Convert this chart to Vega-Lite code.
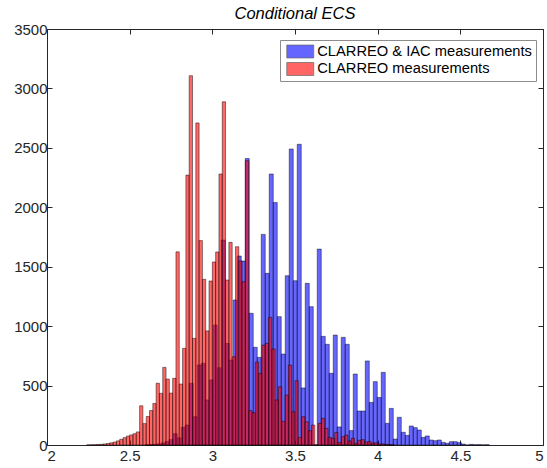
{
  "$schema": "https://vega.github.io/schema/vega-lite/v6.json",
  "width": 496,
  "height": 416,
  "autosize": "none",
  "padding": {"left": 47, "top": 29, "right": 4, "bottom": 23},
  "background": "#ffffff",
  "title": {"text": "Conditional ECS", "font": "Liberation Sans", "fontSize": 16.5, "fontStyle": "italic", "fontWeight": "normal", "color": "#000000", "offset": 0},
  "data": {"values": [
    {"s":"b","a":2.5940,"b":2.6182,"n":2},
    {"s":"b","a":2.6182,"b":2.6424,"n":4},
    {"s":"b","a":2.6424,"b":2.6666,"n":6},
    {"s":"b","a":2.6666,"b":2.6908,"n":10},
    {"s":"b","a":2.6908,"b":2.7150,"n":18},
    {"s":"b","a":2.7150,"b":2.7392,"n":30},
    {"s":"b","a":2.7392,"b":2.7634,"n":45},
    {"s":"b","a":2.7634,"b":2.7876,"n":95},
    {"s":"b","a":2.7876,"b":2.8118,"n":60},
    {"s":"b","a":2.8118,"b":2.8360,"n":149},
    {"s":"b","a":2.8360,"b":2.8602,"n":168},
    {"s":"b","a":2.8602,"b":2.8844,"n":519},
    {"s":"b","a":2.8844,"b":2.9086,"n":238},
    {"s":"b","a":2.9086,"b":2.9328,"n":673},
    {"s":"b","a":2.9328,"b":2.9570,"n":687},
    {"s":"b","a":2.9570,"b":2.9812,"n":379},
    {"s":"b","a":2.9812,"b":3.0054,"n":547},
    {"s":"b","a":3.0054,"b":3.0296,"n":1009},
    {"s":"b","a":3.0296,"b":3.0538,"n":650},
    {"s":"b","a":3.0538,"b":3.0780,"n":1724},
    {"s":"b","a":3.0780,"b":3.1022,"n":855},
    {"s":"b","a":3.1022,"b":3.1264,"n":715},
    {"s":"b","a":3.1264,"b":3.1506,"n":1220},
    {"s":"b","a":3.1506,"b":3.1748,"n":1590},
    {"s":"b","a":3.1748,"b":3.1990,"n":1548},
    {"s":"b","a":3.1990,"b":3.2232,"n":2410},
    {"s":"b","a":3.2232,"b":3.2474,"n":1108},
    {"s":"b","a":3.2474,"b":3.2716,"n":822},
    {"s":"b","a":3.2716,"b":3.2958,"n":737},
    {"s":"b","a":3.2958,"b":3.3200,"n":1772},
    {"s":"b","a":3.3200,"b":3.3442,"n":1444},
    {"s":"b","a":3.3442,"b":3.3684,"n":2280},
    {"s":"b","a":3.3684,"b":3.3926,"n":2041},
    {"s":"b","a":3.3926,"b":3.4168,"n":1080},
    {"s":"b","a":3.4168,"b":3.4410,"n":765},
    {"s":"b","a":3.4410,"b":3.4652,"n":1424},
    {"s":"b","a":3.4652,"b":3.4894,"n":2490},
    {"s":"b","a":3.4894,"b":3.5136,"n":1382},
    {"s":"b","a":3.5136,"b":3.5378,"n":2530},
    {"s":"b","a":3.5378,"b":3.5620,"n":480},
    {"s":"b","a":3.5620,"b":3.5862,"n":1360},
    {"s":"b","a":3.5862,"b":3.6104,"n":1164},
    {"s":"b","a":3.6104,"b":3.6346,"n":0},
    {"s":"b","a":3.6346,"b":3.6588,"n":1648},
    {"s":"b","a":3.6588,"b":3.6830,"n":914},
    {"s":"b","a":3.6830,"b":3.7072,"n":847},
    {"s":"b","a":3.7072,"b":3.7314,"n":603},
    {"s":"b","a":3.7314,"b":3.7556,"n":925},
    {"s":"b","a":3.7556,"b":3.7798,"n":152},
    {"s":"b","a":3.7798,"b":3.8040,"n":906},
    {"s":"b","a":3.8040,"b":3.8282,"n":847},
    {"s":"b","a":3.8282,"b":3.8524,"n":121},
    {"s":"b","a":3.8524,"b":3.8766,"n":597},
    {"s":"b","a":3.8766,"b":3.9008,"n":286},
    {"s":"b","a":3.9008,"b":3.9250,"n":286},
    {"s":"b","a":3.9250,"b":3.9492,"n":707},
    {"s":"b","a":3.9492,"b":3.9734,"n":358},
    {"s":"b","a":3.9734,"b":3.9976,"n":533},
    {"s":"b","a":3.9976,"b":4.0218,"n":400},
    {"s":"b","a":4.0218,"b":4.0460,"n":611},
    {"s":"b","a":4.0460,"b":4.0702,"n":182},
    {"s":"b","a":4.0702,"b":4.0944,"n":308},
    {"s":"b","a":4.0944,"b":4.1186,"n":50},
    {"s":"b","a":4.1186,"b":4.1428,"n":233},
    {"s":"b","a":4.1428,"b":4.1670,"n":107},
    {"s":"b","a":4.1670,"b":4.1912,"n":81},
    {"s":"b","a":4.1912,"b":4.2154,"n":160},
    {"s":"b","a":4.2154,"b":4.2396,"n":146},
    {"s":"b","a":4.2396,"b":4.2638,"n":126},
    {"s":"b","a":4.2638,"b":4.2880,"n":64},
    {"s":"b","a":4.2880,"b":4.3122,"n":76},
    {"s":"b","a":4.3122,"b":4.3364,"n":42},
    {"s":"b","a":4.3364,"b":4.3606,"n":36},
    {"s":"b","a":4.3606,"b":4.3848,"n":42},
    {"s":"b","a":4.3848,"b":4.4090,"n":22},
    {"s":"b","a":4.4090,"b":4.4332,"n":14},
    {"s":"b","a":4.4332,"b":4.4574,"n":28},
    {"s":"b","a":4.4574,"b":4.4816,"n":28},
    {"s":"b","a":4.4816,"b":4.5058,"n":20},
    {"s":"b","a":4.5058,"b":4.5300,"n":8},
    {"s":"b","a":4.5300,"b":4.5542,"n":0},
    {"s":"b","a":4.5542,"b":4.5784,"n":5},
    {"s":"b","a":4.5784,"b":4.6026,"n":2},
    {"s":"b","a":4.6026,"b":4.6268,"n":3},
    {"s":"b","a":4.6268,"b":4.6510,"n":1},
    {"s":"b","a":4.6510,"b":4.6752,"n":2},
    {"s":"r","a":2.24,"b":2.26,"n":1},
    {"s":"r","a":2.26,"b":2.28,"n":2},
    {"s":"r","a":2.28,"b":2.30,"n":3},
    {"s":"r","a":2.30,"b":2.32,"n":4},
    {"s":"r","a":2.32,"b":2.34,"n":6},
    {"s":"r","a":2.34,"b":2.36,"n":9},
    {"s":"r","a":2.36,"b":2.38,"n":13},
    {"s":"r","a":2.38,"b":2.40,"n":18},
    {"s":"r","a":2.40,"b":2.42,"n":25},
    {"s":"r","a":2.42,"b":2.44,"n":35},
    {"s":"r","a":2.44,"b":2.46,"n":48},
    {"s":"r","a":2.46,"b":2.48,"n":62},
    {"s":"r","a":2.48,"b":2.50,"n":75},
    {"s":"r","a":2.50,"b":2.52,"n":85},
    {"s":"r","a":2.52,"b":2.54,"n":95},
    {"s":"r","a":2.54,"b":2.56,"n":110},
    {"s":"r","a":2.56,"b":2.58,"n":330},
    {"s":"r","a":2.58,"b":2.60,"n":180},
    {"s":"r","a":2.60,"b":2.62,"n":240},
    {"s":"r","a":2.62,"b":2.64,"n":290},
    {"s":"r","a":2.64,"b":2.66,"n":350},
    {"s":"r","a":2.66,"b":2.68,"n":520},
    {"s":"r","a":2.68,"b":2.70,"n":435},
    {"s":"r","a":2.70,"b":2.72,"n":653},
    {"s":"r","a":2.72,"b":2.74,"n":555},
    {"s":"r","a":2.74,"b":2.76,"n":437},
    {"s":"r","a":2.76,"b":2.78,"n":561},
    {"s":"r","a":2.78,"b":2.80,"n":1625},
    {"s":"r","a":2.80,"b":2.82,"n":513},
    {"s":"r","a":2.82,"b":2.84,"n":813},
    {"s":"r","a":2.84,"b":2.86,"n":2271},
    {"s":"r","a":2.86,"b":2.88,"n":3107},
    {"s":"r","a":2.88,"b":2.90,"n":897},
    {"s":"r","a":2.90,"b":2.92,"n":2710},
    {"s":"r","a":2.92,"b":2.94,"n":1720},
    {"s":"r","a":2.94,"b":2.96,"n":1394},
    {"s":"r","a":2.96,"b":2.98,"n":960},
    {"s":"r","a":2.98,"b":3.00,"n":1380},
    {"s":"r","a":3.00,"b":3.02,"n":1540},
    {"s":"r","a":3.02,"b":3.04,"n":1624},
    {"s":"r","a":3.04,"b":3.06,"n":2280},
    {"s":"r","a":3.06,"b":3.08,"n":2888},
    {"s":"r","a":3.08,"b":3.10,"n":1388},
    {"s":"r","a":3.10,"b":3.12,"n":1705},
    {"s":"r","a":3.12,"b":3.14,"n":743},
    {"s":"r","a":3.14,"b":3.16,"n":1668},
    {"s":"r","a":3.16,"b":3.18,"n":1548},
    {"s":"r","a":3.18,"b":3.20,"n":1374},
    {"s":"r","a":3.20,"b":3.22,"n":2392},
    {"s":"r","a":3.22,"b":3.24,"n":289},
    {"s":"r","a":3.24,"b":3.26,"n":272},
    {"s":"r","a":3.26,"b":3.28,"n":698},
    {"s":"r","a":3.28,"b":3.30,"n":603},
    {"s":"r","a":3.30,"b":3.32,"n":841},
    {"s":"r","a":3.32,"b":3.34,"n":855},
    {"s":"r","a":3.34,"b":3.36,"n":1074},
    {"s":"r","a":3.36,"b":3.38,"n":808},
    {"s":"r","a":3.38,"b":3.40,"n":379},
    {"s":"r","a":3.40,"b":3.42,"n":491},
    {"s":"r","a":3.42,"b":3.44,"n":200},
    {"s":"r","a":3.44,"b":3.46,"n":420},
    {"s":"r","a":3.46,"b":3.48,"n":673},
    {"s":"r","a":3.48,"b":3.50,"n":280},
    {"s":"r","a":3.50,"b":3.52,"n":541},
    {"s":"r","a":3.52,"b":3.54,"n":64},
    {"s":"r","a":3.54,"b":3.56,"n":238},
    {"s":"r","a":3.56,"b":3.58,"n":196},
    {"s":"r","a":3.58,"b":3.60,"n":120},
    {"s":"r","a":3.60,"b":3.62,"n":168},
    {"s":"r","a":3.62,"b":3.64,"n":0},
    {"s":"r","a":3.64,"b":3.66,"n":182},
    {"s":"r","a":3.66,"b":3.68,"n":224},
    {"s":"r","a":3.68,"b":3.70,"n":140},
    {"s":"r","a":3.70,"b":3.72,"n":64},
    {"s":"r","a":3.72,"b":3.74,"n":56},
    {"s":"r","a":3.74,"b":3.76,"n":106},
    {"s":"r","a":3.76,"b":3.78,"n":20},
    {"s":"r","a":3.78,"b":3.80,"n":70},
    {"s":"r","a":3.80,"b":3.82,"n":84},
    {"s":"r","a":3.82,"b":3.84,"n":34},
    {"s":"r","a":3.84,"b":3.86,"n":56},
    {"s":"r","a":3.86,"b":3.88,"n":14},
    {"s":"r","a":3.88,"b":3.90,"n":40},
    {"s":"r","a":3.90,"b":3.92,"n":45},
    {"s":"r","a":3.92,"b":3.94,"n":25},
    {"s":"r","a":3.94,"b":3.96,"n":30},
    {"s":"r","a":3.96,"b":3.98,"n":15},
    {"s":"r","a":3.98,"b":4.00,"n":20},
    {"s":"r","a":4.00,"b":4.02,"n":8},
    {"s":"r","a":4.02,"b":4.04,"n":10},
    {"s":"r","a":4.04,"b":4.06,"n":5},
    {"s":"r","a":4.06,"b":4.08,"n":3},
    {"s":"r","a":4.08,"b":4.10,"n":2}
  ]},
  "layer": [
    {
      "mark": {"type": "rect", "fillOpacity": 0.6, "stroke": "#000000", "strokeWidth": 0.7, "strokeOpacity": 0.65},
      "encoding": {
        "x": {"field": "a", "type": "quantitative", "scale": {"domain": [2, 5], "nice": false, "zero": false},
              "axis": {"orient": "bottom", "values": [2, 2.5, 3, 3.5, 4, 4.5, 5], "format": "~g", "title": null, "labelPadding": 8}},
        "x2": {"field": "b"},
        "y": {"field": "n", "type": "quantitative", "scale": {"domain": [0, 3500], "nice": false},
              "axis": {"orient": "left", "values": [0, 500, 1000, 1500, 2000, 2500, 3000, 3500], "format": "d", "title": null}},
        "y2": {"datum": 0},
        "fill": {"field": "s", "type": "nominal", "scale": {"domain": ["b", "r"], "range": ["#0000ff", "#ff0000"]},
                 "legend": {"title": null, "orient": "none", "legendX": 233, "legendY": 11, "labelLimit": 400,
                            "labelExpr": "datum.label == 'b' ? 'CLARREO & IAC measurements' : 'CLARREO measurements'"}}
      }
    },
    {
      "mark": {"type": "rect", "opacity": 0},
      "encoding": {
        "x": {"field": "a", "type": "quantitative", "axis": {"orient": "top", "values": [2, 2.5, 3, 3.5, 4, 4.5, 5], "labels": false, "title": null}},
        "x2": {"field": "b"},
        "y": {"field": "n", "type": "quantitative", "axis": {"orient": "right", "values": [0, 500, 1000, 1500, 2000, 2500, 3000, 3500], "labels": false, "title": null}},
        "y2": {"datum": 0}
      }
    }
  ],
  "resolve": {"axis": {"x": "independent", "y": "independent"}},
  "config": {
    "view": {"stroke": "#262626", "strokeWidth": 1},
    "axis": {"domain": false, "grid": false, "tickSize": -5, "tickColor": "#262626", "tickWidth": 1,
             "labelFont": "Liberation Sans", "labelFontSize": 15, "labelColor": "#262626", "labelPadding": 3},
    "axisLeft": {"labelPadding": 5},
    "legend": {"fillColor": "#ffffff", "strokeColor": "#8c8c8c", "padding": 4, "cornerRadius": 0,
               "labelFont": "Liberation Sans", "labelFontSize": 14.7, "labelColor": "#000000", "labelOffset": 9.5,
               "symbolType": "M-2,-0.96H2V0.96H-2Z", "symbolSize": 182, "symbolOffset": 8.75, "symbolOpacity": 0.6,
               "symbolStrokeColor": "#000000", "symbolStrokeWidth": 0.7, "rowPadding": 0.5}
  }
}
